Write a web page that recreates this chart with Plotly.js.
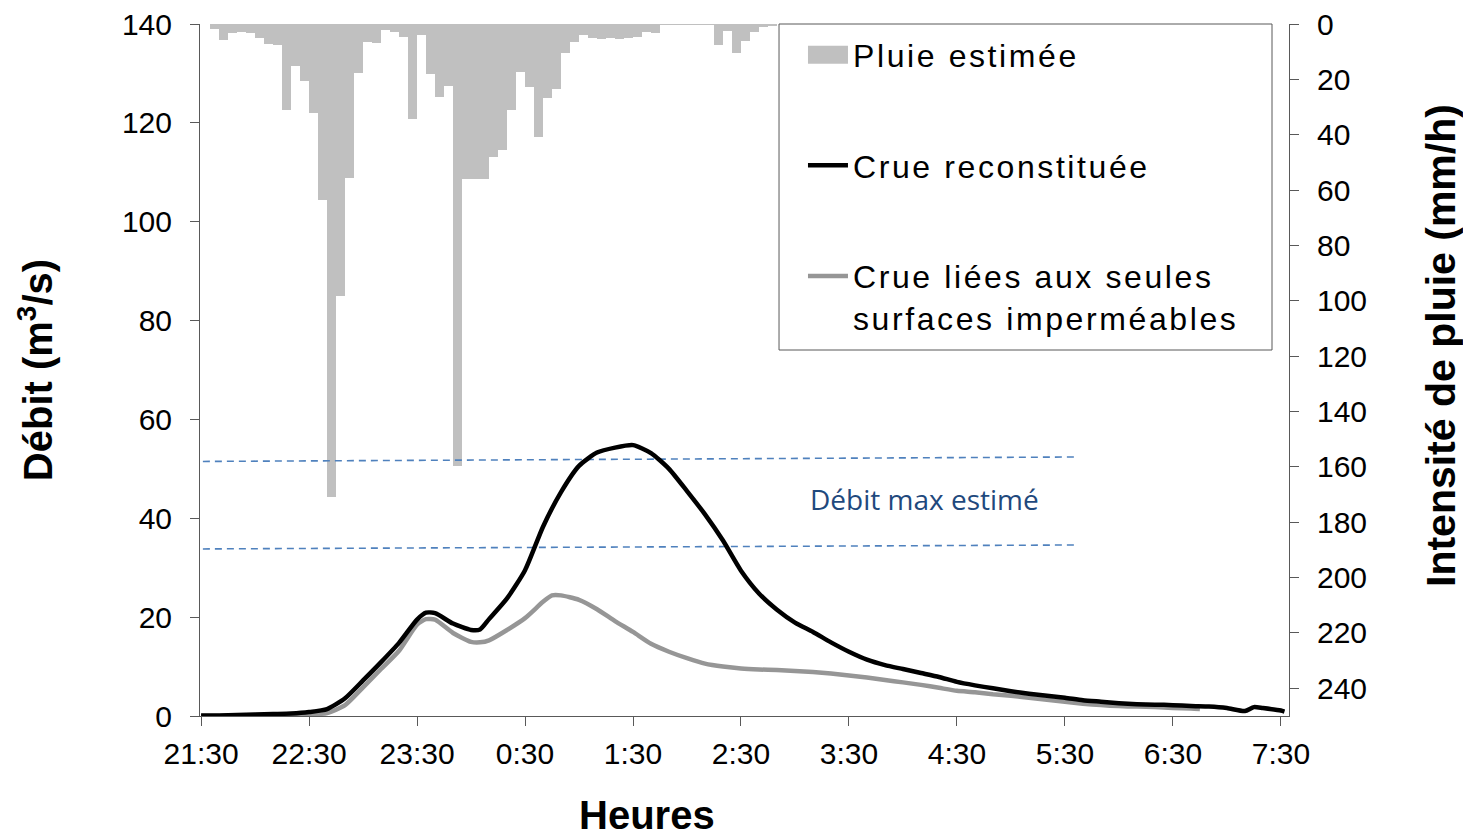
<!DOCTYPE html>
<html>
<head>
<meta charset="utf-8">
<script src="https://cdn.plot.ly/plotly-3.0.1.min.js"></script>
<style>
  html, body { margin: 0; padding: 0; background: #fff; }
  #chart { width: 1463px; height: 839px; }
  .legendtext { letter-spacing: 2.6px; }
</style>
</head>
<body>
<div id="chart"></div>
<script>
// ---------- DATA ----------
// Rain (5-minute blocks, start time of each block), mm/h
const rainTimes = [
  "21:35","21:40","21:45","21:50","21:55","22:00","22:05","22:10","22:15","22:20",
  "22:25","22:30","22:35","22:40","22:45","22:50","22:55","23:00","23:05","23:10",
  "23:15","23:20","23:25","23:30","23:35","23:40","23:45","23:50","23:55","0:00",
  "0:05","0:10","0:15","0:20","0:25","0:30","0:35","0:40","0:45","0:50",
  "0:55","1:00","1:05","1:10","1:15","1:20","1:25","1:30","1:35","1:40",
  "1:45","1:50","1:55","2:00","2:05","2:10","2:15","2:20","2:25","2:30",
  "2:35","2:40","2:45"
];
const rainValues = [
  1.8, 5.7, 3.4, 2.8, 3.4, 5.2, 7.1, 7.6, 31, 15,
  20.5, 32.3, 63.6, 170.8, 98.3, 55.8, 17.8, 6.4, 6.7, 2.2,
  2.8, 4.6, 34.3, 4.0, 18.2, 26.3, 22.3, 159.7, 56, 56,
  56, 47.9, 45.5, 31, 17.2, 22.6, 40.7, 26.9, 23.5, 10.4,
  6.4, 4.0, 5.2, 5.5, 4.9, 5.5, 4.9, 4.6, 3.0, 3.4,
  0.5, 0.5, 0.5, 0.5, 0.5, 0.5, 7.6, 2.4, 10.6, 6.0,
  2.8, 1.2, 0.6
];

// Reconstituted flood (m3/s)
const crueTimes = [
  "21:30","21:40","21:50","22:00","22:10","22:20","22:30","22:40","22:50","23:00",
  "23:10","23:20","23:30","23:35","23:40","23:50","0:00","0:05","0:10","0:20",
  "0:30","0:40","0:50","1:00","1:10","1:20","1:30","1:40","1:50","2:00",
  "2:10","2:20","2:30","2:40","2:50","3:00","3:10","3:20","3:30","3:40",
  "3:50","4:00","4:10","4:20","4:30","4:40","4:50","5:00","5:10","5:20",
  "5:30","5:40","5:50","6:00","6:10","6:20","6:30","6:40","6:50","7:00",
  "7:10","7:15","7:20","7:30","7:32"
];
const crueValues = [
  0.1, 0.1, 0.2, 0.3, 0.4, 0.5, 0.8, 1.4, 3.6, 7.2,
  10.9, 14.8, 19.5, 20.9, 20.8, 18.7, 17.4, 17.5, 19.6, 23.8,
  29.5, 38.3, 45.3, 50.6, 53.3, 54.3, 54.8, 53.2, 50.0, 45.5,
  40.8, 35.5, 29.4, 24.8, 21.5, 18.9, 17.0, 14.9, 13.0, 11.4,
  10.3, 9.5, 8.7, 7.9, 6.9, 6.2, 5.6, 5.0, 4.5, 4.1,
  3.7, 3.2, 2.9, 2.6, 2.4, 2.3, 2.2, 2.0, 1.9, 1.6,
  1.0, 1.8, 1.6, 1.1, 0.9
];

// Flood from impervious surfaces only (m3/s)
const impTimes = [
  "21:30","21:40","21:50","22:00","22:10","22:20","22:30","22:40","22:50","23:00",
  "23:10","23:20","23:30","23:35","23:40","23:50","0:00","0:05","0:10","0:20",
  "0:30","0:40","0:45","0:50","1:00","1:10","1:20","1:30","1:40","1:50",
  "2:00","2:10","2:20","2:30","2:40","2:50","3:00","3:10","3:20","3:30",
  "3:40","3:50","4:00","4:10","4:20","4:30","4:40","4:50","5:00","5:10",
  "5:20","5:30","5:40","5:50","6:00","6:10","6:20","6:30","6:40","6:45"
];
const impValues = [
  0.0, 0.0, 0.1, 0.1, 0.2, 0.2, 0.3, 0.6, 2.2, 5.8,
  9.5, 13.2, 18.5, 19.6, 19.5, 16.8, 15.0, 14.9, 15.3, 17.4,
  19.8, 23.1, 24.4, 24.4, 23.5, 21.6, 19.2, 17.0, 14.6, 13.0,
  11.7, 10.6, 10.0, 9.6, 9.4, 9.3, 9.1, 8.9, 8.6, 8.2,
  7.8, 7.3, 6.8, 6.3, 5.7, 5.1, 4.8, 4.4, 4.1, 3.7,
  3.3, 2.9, 2.5, 2.2, 2.0, 1.9, 1.8, 1.6, 1.5, 1.4
];

// Estimated maximum discharge band (two dashed lines)
const maxTimes = ["21:31", "5:36"];
const maxHigh = [51.5, 52.4];
const maxLow = [33.8, 34.6];

// Axis ticks
const xTickTimes = ["21:30","22:30","23:30","0:30","1:30","2:30","3:30","4:30","5:30","6:30","7:30"];
const xTickLabels = ["21:30","22:30","23:30","0:30","1:30","2:30","3:30","4:30","5:30","6:30","7:30"];
const flowTicks = [0, 20, 40, 60, 80, 100, 120, 140];
const rainTicks = [0, 20, 40, 60, 80, 100, 120, 140, 160, 180, 200, 220, 240];

// ---------- HELPERS ----------
function toDate(hm) {
  const parts = hm.split(":");
  const h = parseInt(parts[0], 10);
  const day = h >= 12 ? "2000-01-01" : "2000-01-02";
  const hh = (h < 10 ? "0" : "") + h;
  return day + " " + hh + ":" + parts[1] + ":00";
}
const D = arr => arr.map(toDate);

const FONT = "Liberation Sans, Arial, Helvetica, sans-serif";
const RAIN_COLOR = "#c0c0c0";
const RAIN_NAME = "Pluie estimée";

const traces = [
  {
    type: "bar",
    name: RAIN_NAME,
    x: D(rainTimes),
    y: rainValues,
    yaxis: "y",
    offset: 0,
    width: 300000,
    marker: { color: RAIN_COLOR, line: { width: 0 } },
    showlegend: false,
    legendgroup: "g1",
    hoverinfo: "skip"
  },
  {
    // legend swatch for the rain bars (wide rectangle, as in the original)
    type: "scatter",
    mode: "lines",
    name: RAIN_NAME,
    x: [null],
    y: [null],
    yaxis: "y",
    line: { color: RAIN_COLOR, width: 18 },
    legendgroup: "g1",
    legendrank: 1,
    hoverinfo: "skip"
  },
  {
    type: "scatter",
    mode: "lines",
    x: D(maxTimes),
    y: maxHigh,
    yaxis: "y2",
    line: { color: "#4f81bd", width: 1.6, dash: "7px,5px" },
    showlegend: false,
    hoverinfo: "skip"
  },
  {
    type: "scatter",
    mode: "lines",
    x: D(maxTimes),
    y: maxLow,
    yaxis: "y2",
    line: { color: "#4f81bd", width: 1.6, dash: "7px,5px" },
    showlegend: false,
    hoverinfo: "skip"
  },
  {
    type: "scatter",
    mode: "lines",
    name: "Crue liées aux seules<br>surfaces imperméables",
    x: D(impTimes),
    y: impValues,
    yaxis: "y2",
    line: { color: "#969696", width: 4.5, shape: "spline", smoothing: 0.6 },
    legendgroup: "g3",
    legendrank: 3,
    hoverinfo: "skip"
  },
  {
    type: "scatter",
    mode: "lines",
    name: "Crue reconstituée",
    x: D(crueTimes),
    y: crueValues,
    yaxis: "y2",
    line: { color: "#000000", width: 4.5, shape: "spline", smoothing: 0.6 },
    legendgroup: "g2",
    legendrank: 2,
    hoverinfo: "skip"
  }
];

const layout = {
  width: 1463,
  height: 839,
  paper_bgcolor: "#ffffff",
  plot_bgcolor: "rgba(0,0,0,0)",
  margin: { l: 200, r: 174, t: 24, b: 123, pad: 0 },
  font: { family: FONT, size: 30, color: "#000" },
  bargap: 0,
  showlegend: true,
  xaxis: {
    type: "date",
    range: ["2000-01-01 21:29:24", "2000-01-02 07:34:30"],
    tickvals: D(xTickTimes),
    ticktext: xTickLabels,
    ticks: "outside",
    ticklen: 9,
    tickwidth: 1,
    tickcolor: "#595959",
    showline: true,
    linecolor: "#595959",
    linewidth: 1,
    showgrid: false,
    zeroline: false,
    tickfont: { family: FONT, size: 30, color: "#000" },
    ticklabelstandoff: 2,
    fixedrange: true
  },
  yaxis: {
    side: "right",
    range: [250, 0],
    tickvals: rainTicks,
    ticks: "outside",
    ticklen: 9,
    tickcolor: "#595959",
    showline: true,
    linecolor: "#595959",
    linewidth: 1,
    showgrid: false,
    zeroline: false,
    tickfont: { family: FONT, size: 30, color: "#000" },
    ticklabelstandoff: 12,
    fixedrange: true
  },
  yaxis2: {
    overlaying: "y",
    side: "left",
    range: [0, 140],
    tickvals: flowTicks,
    ticks: "outside",
    ticklen: 9,
    tickcolor: "#595959",
    showline: true,
    linecolor: "#595959",
    linewidth: 1,
    showgrid: false,
    zeroline: false,
    tickfont: { family: FONT, size: 30, color: "#000" },
    ticklabelstandoff: 12,
    title: { text: "Débit (m<sup>3</sup>/s)", font: { family: FONT, size: 40, weight: "bold", color: "#000" }, standoff: 56 },
    fixedrange: true
  },
  legend: {
    x: 0.5537,
    y: 0.9950,
    xanchor: "left",
    yanchor: "top",
    bgcolor: "rgba(0,0,0,0)",
    borderwidth: 0,
    font: { family: FONT, size: 32, color: "#000" },
    traceorder: "grouped",
    tracegroupgap: 66,
    itemwidth: 40,
    valign: "top"
  },
  shapes: [
    {
      type: "rect", xref: "paper", yref: "paper", layer: "above",
      x0: 0.5317, x1: 0.9844, y0: 0.5289, y1: 1,
      fillcolor: "#ffffff",
      line: { color: "#595959", width: 1 }
    }
  ],
  annotations: [
    {
      xref: "x", yref: "y2",
      x: toDate("4:12"), y: 43.9,
      text: "Débit max estimé",
      showarrow: false,
      font: { family: "Open Sans, Noto Sans, sans-serif", size: 28, color: "#1f497d" }
    },
    {
      // x-axis title
      xref: "paper", yref: "paper",
      x: 0.4109, y: -0.1777,
      xanchor: "center", yanchor: "bottom",
      text: "Heures",
      showarrow: false,
      font: { family: FONT, size: 40, weight: "bold", color: "#000" }
    },
    {
      // right y-axis title
      xref: "paper", yref: "paper",
      x: 1.1396, y: 0.5347,
      xanchor: "center", yanchor: "middle",
      textangle: -90,
      text: "Intensité de pluie (mm/h)",
      showarrow: false,
      font: { family: FONT, size: 41, weight: "bold", color: "#000" }
    }
  ]
};

Plotly.newPlot("chart", traces, layout, { staticPlot: true, displayModeBar: false }).then(function (gd) {
  // make the rain legend swatch a wide block like the original bar swatch
  gd.querySelectorAll(".legend .traces").forEach(function (t) {
    const txt = t.querySelector(".legendtext");
    if (txt && txt.textContent === RAIN_NAME) {
      t.querySelectorAll(".legendlines path").forEach(function (p) {
        p.style.strokeWidth = "18px";
      });
    }
  });
});
</script>
</body>
</html>
